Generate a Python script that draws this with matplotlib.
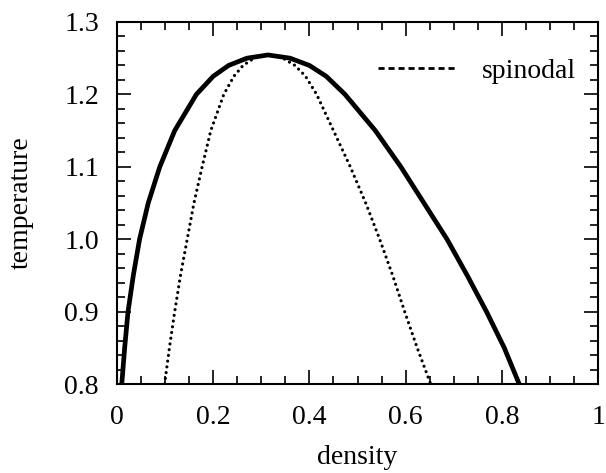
import matplotlib
matplotlib.use("Agg")
import matplotlib.pyplot as plt
from matplotlib.lines import Line2D
from matplotlib.ticker import MultipleLocator

# coexistence curve (solid)
coex_density = [0.010, 0.016, 0.023, 0.034, 0.047, 0.065, 0.089, 0.120, 0.165,
                0.200, 0.232, 0.270, 0.314, 0.360, 0.400, 0.435, 0.474, 0.537,
                0.590, 0.638, 0.686, 0.728, 0.768, 0.805, 0.836]
coex_temp = [0.80, 0.85, 0.90, 0.95, 1.00, 1.05, 1.10, 1.15, 1.20,
             1.225, 1.24, 1.25, 1.2545, 1.25, 1.24, 1.225, 1.20, 1.15,
             1.10, 1.05, 1.00, 0.95, 0.90, 0.85, 0.80]

# spinodal (dotted)
spin_density = [0.099, 0.109, 0.120, 0.132, 0.146, 0.160, 0.177, 0.195, 0.222,
                0.243, 0.262, 0.285, 0.314, 0.345, 0.370, 0.392, 0.415, 0.450,
                0.485, 0.517, 0.546, 0.573, 0.598, 0.624, 0.652]
spin_temp = [0.80, 0.85, 0.90, 0.95, 1.00, 1.05, 1.10, 1.15, 1.20,
             1.225, 1.24, 1.25, 1.2545, 1.25, 1.24, 1.225, 1.20, 1.15,
             1.10, 1.05, 1.00, 0.95, 0.90, 0.85, 0.80]

xticks = [0, 0.2, 0.4, 0.6, 0.8, 1]
xticklabels = ["0", "0.2", "0.4", "0.6", "0.8", "1"]
yticks = [0.8, 0.9, 1.0, 1.1, 1.2, 1.3]
yticklabels = ["0.8", "0.9", "1.0", "1.1", "1.2", "1.3"]

plt.rcParams['font.family'] = ['Liberation Serif', 'DejaVu Serif']

fig = plt.figure(figsize=(6.06, 4.73), dpi=100)
ax = fig.add_axes([0.193, 0.188, 0.794, 0.7655])

ax.plot(coex_density, coex_temp, color='black', lw=3.4, solid_capstyle='butt',
        solid_joinstyle='round')
ax.plot(spin_density, spin_temp, color='black', lw=2.3, linestyle=(0, (0.01, 1.8)),
        dash_capstyle='round')

ax.set_xlim(0, 1)
ax.set_ylim(0.8, 1.3)
ax.set_xticks(xticks)
ax.set_xticklabels(xticklabels)
ax.set_yticks(yticks)
ax.set_yticklabels(yticklabels)
ax.xaxis.set_minor_locator(MultipleLocator(0.05))
ax.yaxis.set_minor_locator(MultipleLocator(0.02))
ax.tick_params(which='both', direction='in', top=True, right=True, width=1.2,
               labelsize=20)
ax.tick_params(axis='x', which='major', pad=15)
ax.tick_params(axis='y', which='major', pad=13)
ax.tick_params(which='major', length=10)
ax.tick_params(which='minor', length=6)
for s in ax.spines.values():
    s.set_linewidth(1.5)

ax.set_xlabel("density", fontsize=20, labelpad=11)
ax.set_ylabel("temperature", fontsize=20, labelpad=22)

handle = Line2D([], [], color='black', lw=2.0, linestyle=(0, (2.2, 1.4)))
leg = ax.legend([handle], ["spinodal"], loc='upper right', frameon=False, fontsize=20,
                handlelength=2.8, handletextpad=0.95, bbox_to_anchor=(1.007, 0.968))

fig.savefig("out.png", dpi=100)
